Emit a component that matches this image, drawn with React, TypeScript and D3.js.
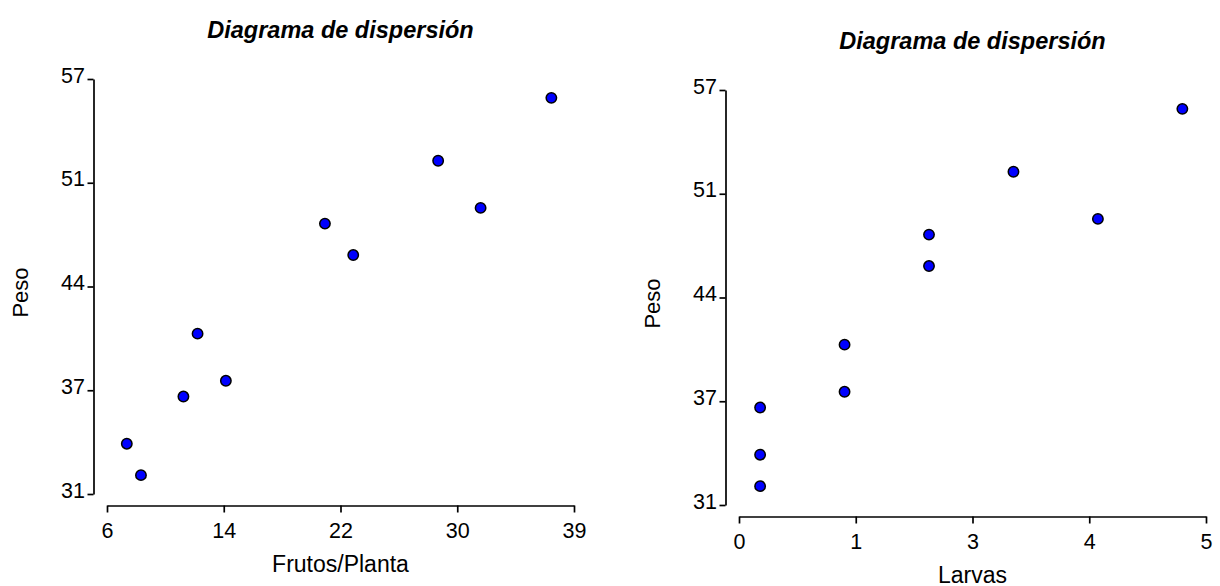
import * as d3 from "d3";
import { useEffect, useRef } from "react";

const peso = [56, 52, 49, 48, 46, 41, 38, 37, 34, 32];
const frutosPlanta = [37, 29, 32, 21, 23, 12, 14, 11, 7, 8];
const larvas = [5, 3, 4, 2, 2, 1, 1, 0, 0, 0];

const pesoTicks = [30.8, 37.4, 44, 50.6, 57.2];
const pesoTickLabels = ["31", "37", "44", "51", "57"];
const frutosTicks = [5.6, 13.85, 22.1, 30.35, 38.6];
const frutosTickLabels = ["6", "14", "22", "30", "39"];
const larvasTicks = [-0.25, 1.1325, 2.515, 3.8975, 5.28];
const larvasTickLabels = ["0", "1", "3", "4", "5"];

const FONT = "'Liberation Sans', Arial, Helvetica, sans-serif";

const panels = [
  {
    title: "Diagrama de dispersión",
    xLabel: "Frutos/Planta",
    yLabel: "Peso",
    xs: frutosPlanta,
    xTicks: frutosTicks,
    xTickLabels: frutosTickLabels,
    dx: 0,
    dy: 0,
  },
  {
    title: "Diagrama de dispersión",
    xLabel: "Larvas",
    yLabel: "Peso",
    xs: larvas,
    xTicks: larvasTicks,
    xTickLabels: larvasTickLabels,
    dx: 632,
    dy: 11,
  },
];

const App = () => {
  const ref = useRef(null);

  useEffect(() => {
    const svg = d3.select(ref.current);
    svg.selectAll("*").remove();

    panels.forEach((p) => {
      const left = 107 + p.dx;
      const right = 574 + p.dx;
      const top = 79 + p.dy;
      const bottom = 494 + p.dy;
      const g = svg.append("g");

      const x = d3.scaleLinear().domain(d3.extent(p.xTicks)).range([left, right]);
      const y = d3.scaleLinear().domain(d3.extent(pesoTicks)).range([bottom, top]);

      // X axis
      const gx = g
        .append("g")
        .attr("transform", `translate(0,${bottom + 11.5})`)
        .call(
          d3
            .axisBottom(x)
            .tickValues(p.xTicks)
            .tickFormat((d, i) => p.xTickLabels[i])
            .tickSize(7)
            .tickSizeOuter(0)
        );
      gx.selectAll("path, line").attr("stroke", "#000").attr("stroke-width", 1.7);
      gx.selectAll("text")
        .attr("y", 32)
        .attr("dy", null)
        .attr("fill", "#000")
        .style("font-size", "21.5px")
        .style("font-family", FONT);

      // Y axis
      const gy = g
        .append("g")
        .attr("transform", `translate(${left - 13.5},0)`)
        .call(
          d3
            .axisLeft(y)
            .tickValues(pesoTicks)
            .tickFormat((d, i) => pesoTickLabels[i])
            .tickSize(6)
            .tickSizeOuter(0)
        );
      gy.selectAll("path, line").attr("stroke", "#000").attr("stroke-width", 1.7);
      gy.selectAll("text")
        .attr("x", -8.5)
        .attr("y", 3)
        .attr("dy", null)
        .attr("fill", "#000")
        .style("font-size", "21.5px")
        .style("font-family", FONT);

      // Points
      g.append("g")
        .selectAll("circle")
        .data(peso)
        .join("circle")
        .attr("cx", (d, i) => x(p.xs[i]))
        .attr("cy", (d) => y(d))
        .attr("r", 5.2)
        .attr("fill", "#0000ff")
        .attr("stroke", "#000")
        .attr("stroke-width", 1.5);

      const cx = (left + right) / 2;

      // Title
      g.append("text")
        .attr("x", cx)
        .attr("y", top - 41)
        .attr("text-anchor", "middle")
        .style("font-family", FONT)
        .style("font-size", "23.5px")
        .style("font-weight", "bold")
        .style("font-style", "italic")
        .text(p.title);

      // Axis titles
      g.append("text")
        .attr("x", cx)
        .attr("y", bottom + 78)
        .attr("text-anchor", "middle")
        .style("font-family", FONT)
        .style("font-size", "23px")
        .text(p.xLabel);

      g.append("text")
        .attr("transform", `translate(${left - 79},${(top + bottom) / 2 + 6}) rotate(-90)`)
        .attr("text-anchor", "middle")
        .style("font-family", FONT)
        .style("font-size", "22px")
        .text(p.yLabel);
    });
  }, []);

  return (
    <svg
      ref={ref}
      width={1220}
      height={586}
      style={{ position: "absolute", left: 0, top: 0, background: "#fff" }}
    />
  );
};

export default App;
